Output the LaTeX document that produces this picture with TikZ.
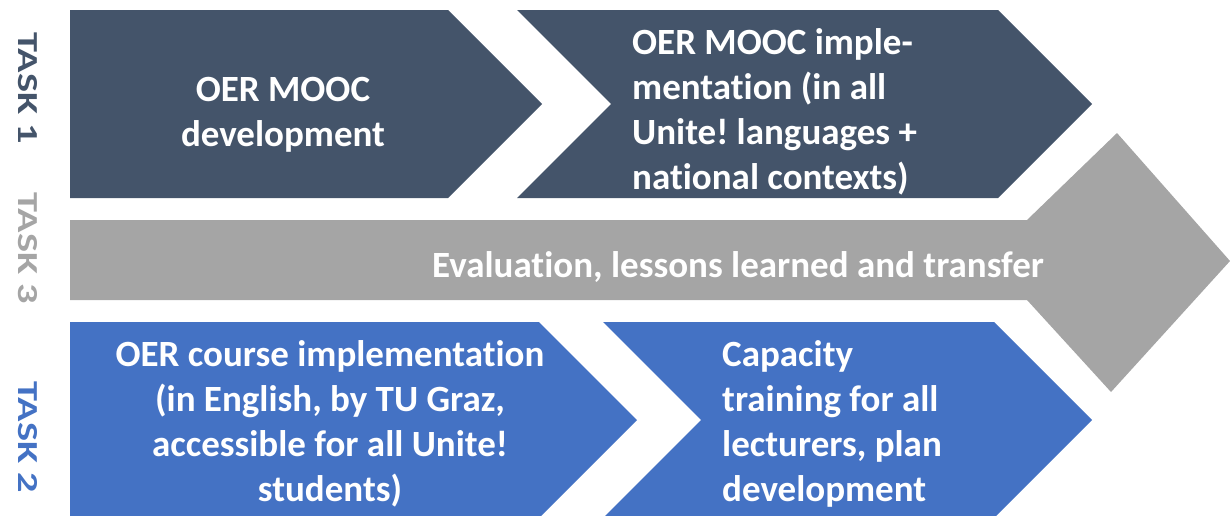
\documentclass[tikz,border=0pt]{standalone}
\usepackage{fontspec}
\usepackage{graphicx}
\setmainfont{Carlito}[Ligatures={NoCommon}]
\frenchspacing
\definecolor{taskdark}{HTML}{44546A}
\definecolor{taskgray}{HTML}{A5A5A5}
\definecolor{taskblue}{HTML}{4472C4}
\newcommand{\stretchlabel}[1]{\scalebox{1.39}[1]{#1}}
\begin{document}
\begin{tikzpicture}[x=1pt,y=-1pt,
  boxtext/.style={text=white,inner sep=0pt,font=\bfseries\fontsize{37}{45}\selectfont},
  tasklabel/.style={rotate=-90,inner sep=0pt,font=\bfseries\fontsize{29}{34}\selectfont}]
\useasboundingbox (0,0) rectangle (1230,515);
\clip (0,0) rectangle (1230,515);
% Task 1 (dark)
\fill[taskdark] (70,10) -- (448,10) -- (542,104) -- (448,198) -- (70,198) -- cycle;
\fill[taskdark] (517,10) -- (998,10) -- (1092,104) -- (998,198) -- (517,198) -- (611,104) -- cycle;
% Task 3 (gray)
\fill[taskgray] (70,220) -- (1027,220) -- (1117,133) -- (1230,261) -- (1111,392) -- (1027,300) -- (70,300) -- cycle;
% Task 2 (blue)
\fill[taskblue] (70,322) -- (539,322) -- (637,420) -- (539,518) -- (70,518) -- cycle;
\fill[taskblue] (603,322) -- (994,322) -- (1092,420) -- (994,518) -- (603,518) -- (701,420) -- cycle;
% texts
\node[boxtext,align=center,anchor=north] (mdev) at (283,77) {OER MOOC\\development};
\node[boxtext,align=left,anchor=north west] (mimp) at (632,28) {OER MOOC imple-\\mentation (in all\\Unite! languages +\\national contexts)};
\node[boxtext,anchor=base west] (eval) at (432,277) {Evaluation, lessons learned and transfer};
\node[boxtext,align=center,anchor=north] (cimp) at (330,340) {OER course implementation\\(in English, by TU Graz,\\accessible for all Unite!\\students)};
\node[boxtext,align=left,anchor=north west] (cap) at (722,340) {Capacity\\training for all\\lecturers, plan\\development};
% task labels
\node[tasklabel,text=taskdark] (t1) at (28,88) {\stretchlabel{TASK 1}};
\node[tasklabel,text=taskgray] (t3) at (28,248) {\stretchlabel{TASK 3}};
\node[tasklabel,text=taskblue] (t2) at (28,437) {\stretchlabel{TASK 2}};
\end{tikzpicture}
\end{document}
